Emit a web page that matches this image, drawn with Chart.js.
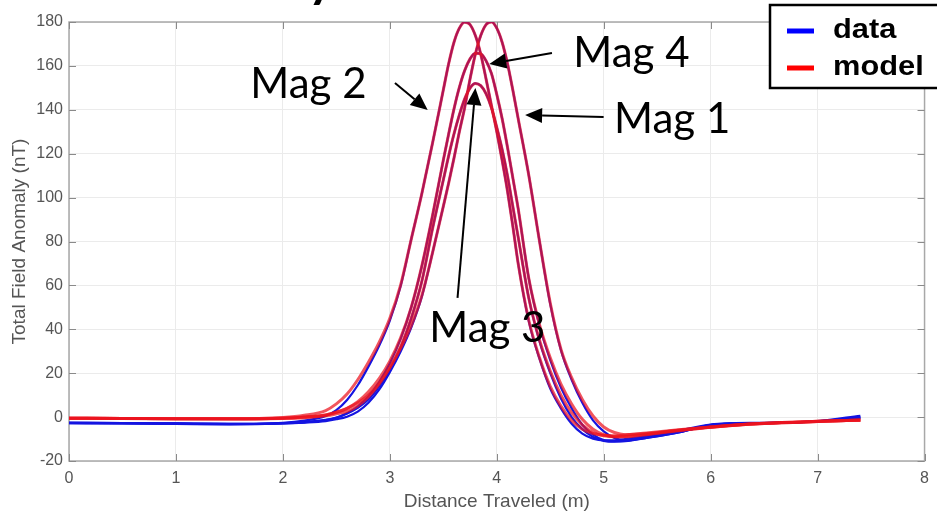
<!DOCTYPE html>
<html><head><meta charset="utf-8">
<script src="https://cdn.jsdelivr.net/npm/chart.js@4/dist/chart.umd.min.js"></script>
<style>html,body{margin:0;padding:0;background:#fff;}canvas{display:block}</style>
</head><body>
<canvas id="c" width="937" height="515"></canvas>
<script>
// ---- data ----
const distance = [0, 0.5, 1, 1.5, 2, 2.2, 2.4, 2.5, 2.6, 2.7, 2.8, 2.9, 3.0, 3.1, 3.2, 3.3, 3.4, 3.5,
  3.55, 3.6, 3.65, 3.7, 3.75, 3.8, 3.85, 3.9, 3.95, 4.0, 4.05, 4.1, 4.15, 4.2,
  4.3, 4.4, 4.5, 4.6, 4.7, 4.8, 4.9, 5.0, 5.1, 5.2, 5.4, 5.7, 6.0, 6.2, 6.5, 7.0, 7.4];

const mag1Model = [-0.5, -0.6, -0.8, -0.9, -0.6, -0.3, 0.6, 1.5, 2.6, 5.1, 9.2, 15, 22.6, 31.3, 41.7, 55.5, 75, 96,
  106.6, 118, 130, 141, 154, 165.4, 173.8, 178.8, 180, 177.2, 170.8, 161.1, 149, 136,
  110, 80, 52, 31, 18, 8, 0.5, -4.5, -7, -8, -7.5, -6, -4.6, -3.8, -2.9, -2, -1.4];
const mag2Model = [-0.5, -0.6, -0.8, -0.8, -0.2, 0.8, 3, 6, 10.5, 17, 25, 34, 45, 60, 81, 102, 125, 149,
  161, 170.8, 177.2, 179.9, 178.8, 173.8, 165.4, 154, 142, 130, 117, 103, 87, 70,
  44, 27, 14, 5, -1.5, -5.5, -7.5, -8.3, -8.5, -8.2, -7.2, -5.8, -4.5, -3.7, -2.8, -1.9, -1.3];
const mag3Model = [-0.5, -0.6, -0.8, -0.8, -0.5, 0, 1, 2.2, 4, 6.5, 10, 15.5, 22.5, 32, 45, 62, 86, 108,
  119, 129, 137.7, 145, 149.9, 152, 151, 147.3, 140.9, 132, 122, 110, 96, 82,
  54, 35, 21, 10, 2, -3.5, -7, -8.5, -9, -8.8, -7.8, -6, -4.5, -3.7, -2.8, -1.9, -1.3];
const mag4Model = [-0.5, -0.6, -0.8, -0.8, -0.5, 0, 1, 2.2, 4, 7, 11.5, 17.5, 25.5, 36, 50, 69, 92, 117,
  129, 140.4, 150.2, 157.9, 163.2, 165.8, 165.5, 162.3, 156.6, 147, 136, 123, 109, 95,
  63, 42, 27, 15, 6, -1, -5.5, -8, -9, -9, -8, -6.2, -4.6, -3.8, -2.9, -2, -1.4];

const mag1Data = [-2.5, -2.7, -2.9, -3.1, -2.9, -2.5, -1.8, -1, 0.2, 2.5, 6.5, 12.5, 20.5, 29.8, 40.8, 55, 75, 96,
  106.6, 118, 130, 141, 154, 165.4, 173.8, 178.8, 180, 177.2, 170.8, 161.1, 149, 136,
  110, 80, 51.5, 30.5, 17, 6.5, -1.5, -6.5, -9.5, -10.5, -9.5, -7, -3.6, -3, -2.7, -1.9, -0.3];
const mag2Data = [-2.6, -2.7, -2.9, -3.1, -2.6, -1.6, 0.5, 3.2, 7.8, 14.5, 23, 32.5, 44, 59.5, 81, 102, 125, 149,
  161, 170.8, 177.2, 179.9, 178.8, 173.8, 165.4, 154, 142, 130, 117, 103, 87, 70,
  43.5, 26.5, 13, 4, -3, -7.5, -9.8, -10.6, -10.6, -10, -8.6, -6.2, -3.4, -2.8, -2.6, -1.8, 0.6];
const mag3Data = [-2.8, -2.9, -3.1, -3.3, -2.9, -2.4, -1.4, -0.3, 1.6, 4.2, 8, 14, 21.5, 31.5, 45, 62, 86, 108,
  119, 129, 137.7, 145, 149.9, 152, 151, 147.3, 140.9, 132, 122, 110, 96, 82,
  54, 34.5, 20, 8.5, 0, -5.5, -9, -10.8, -11.2, -11, -9.5, -7, -3.7, -3, -2.8, -2, -0.5];
const mag4Data = [-2.7, -2.8, -3, -3.2, -2.8, -2.3, -1.3, -0.2, 1.8, 4.8, 9.5, 16, 24.5, 35.5, 50, 69, 92, 117,
  129, 140.4, 150.2, 157.9, 163.2, 165.8, 165.5, 162.3, 156.6, 147, 136, 123, 109, 95,
  63, 41.5, 26, 13.5, 4, -3.5, -8, -10.5, -11, -10.8, -9.2, -6.8, -3.5, -2.9, -2.7, -1.9, 0];

const xTickValues = [0, 1, 2, 3, 4, 5, 6, 7, 8];
const yTickValues = [-20, 0, 20, 40, 60, 80, 100, 120, 140, 160, 180];

const legendLabels = ['data', 'model'];
const legendColors = ['#0000ff', '#ff0000'];

// annotation labels: [text, x(m), y(nT) baseline]
const annotationLabels = [
  ['Mag 2', 2.239, 145.4],
  ['Mag 4', 5.259, 159.5],
  ['Mag 1', 5.640, 129.4],
  ['Mag 3', 3.912, 34.2]
];
// arrows: [fromX, fromY, tipX, tipY] in data units
const annotationArrows = [
  [3.048, 152.2, 3.354, 139.9],
  [4.516, 165.9, 3.930, 160.9],
  [4.999, 136.7, 4.265, 137.6],
  [3.633, 54.3, 3.800, 149.9]
];

// ---- build chart ----
const toPts = arr => arr.map((v, i) => ({x: distance[i], y: v}));
const modelStyle = {borderColor: 'rgba(236,20,30,0.72)', borderWidth: 3, pointRadius: 0, cubicInterpolationMode: 'monotone', fill: false};
const dataStyle  = {borderColor: 'rgba(20,20,225,1)', borderWidth: 2.2, pointRadius: 0, cubicInterpolationMode: 'monotone', fill: false};

const datasets = [
  Object.assign({label: 'Mag 1 model', data: toPts(mag1Model)}, modelStyle),
  Object.assign({label: 'Mag 2 model', data: toPts(mag2Model)}, modelStyle),
  Object.assign({label: 'Mag 3 model', data: toPts(mag3Model)}, modelStyle),
  Object.assign({label: 'Mag 4 model', data: toPts(mag4Model)}, modelStyle),
  Object.assign({label: 'Mag 1 data', data: toPts(mag1Data)}, dataStyle),
  Object.assign({label: 'Mag 2 data', data: toPts(mag2Data)}, dataStyle),
  Object.assign({label: 'Mag 3 data', data: toPts(mag3Data)}, dataStyle),
  Object.assign({label: 'Mag 4 data', data: toPts(mag4Data)}, dataStyle)
];

const frame = {
  id: 'frame',
  beforeDatasetsDraw(chart) {
    const {ctx, chartArea: a, scales: {x, y}} = chart;
    ctx.save();
    ctx.strokeStyle = '#a8a8a8';
    ctx.lineWidth = 1.5;
    ctx.strokeRect(a.left, a.top, a.right - a.left, a.bottom - a.top);
    ctx.strokeStyle = '#8a8a8a';
    ctx.lineWidth = 1;
    ctx.beginPath();
    xTickValues.forEach(v => {
      const px = Math.round(x.getPixelForValue(v)) + 0.5;
      ctx.moveTo(px, a.bottom); ctx.lineTo(px, a.bottom - 7);
      ctx.moveTo(px, a.top); ctx.lineTo(px, a.top + 7);
    });
    yTickValues.forEach(v => {
      const py = Math.round(y.getPixelForValue(v)) + 0.5;
      ctx.moveTo(a.left, py); ctx.lineTo(a.left + 7, py);
      ctx.moveTo(a.right, py); ctx.lineTo(a.right - 7, py);
    });
    ctx.stroke();
    ctx.restore();
  }
};

const annotations = {
  id: 'annotations',
  afterDatasetsDraw(chart) {
    const {ctx, scales: {x, y}} = chart;
    ctx.save();
    ctx.fillStyle = '#000';
    ctx.strokeStyle = '#000';
    ctx.lineWidth = 2;
    annotationArrows.forEach(([x1, y1, x2, y2]) => {
      const p1 = [x.getPixelForValue(x1), y.getPixelForValue(y1)];
      const p2 = [x.getPixelForValue(x2), y.getPixelForValue(y2)];
      const ang = Math.atan2(p2[1] - p1[1], p2[0] - p1[0]);
      const L = 17, W = 7.5;
      const bx = p2[0] - L * Math.cos(ang), by = p2[1] - L * Math.sin(ang);
      ctx.beginPath();
      ctx.moveTo(p1[0], p1[1]);
      ctx.lineTo(bx, by);
      ctx.stroke();
      ctx.beginPath();
      ctx.moveTo(p2[0], p2[1]);
      ctx.lineTo(bx + W * Math.sin(ang), by - W * Math.cos(ang));
      ctx.lineTo(bx - W * Math.sin(ang), by + W * Math.cos(ang));
      ctx.closePath();
      ctx.fill();
    });
    ctx.font = '42px Lato, "Open Sans", sans-serif';
    ctx.textAlign = 'center';
    ctx.textBaseline = 'alphabetic';
    annotationLabels.forEach(([t, xv, yv]) => {
      ctx.fillText(t, x.getPixelForValue(xv), y.getPixelForValue(yv));
    });
    ctx.restore();
  },
  afterDraw(chart) {
    const ctx = chart.ctx;
    ctx.save();
    // cut-off title descender at the very top
    ctx.fillStyle = '#000';
    ctx.font = 'bold 50px Lato, sans-serif';
    ctx.textAlign = 'center';
    ctx.textBaseline = 'alphabetic';
    ctx.fillText('y', 321, -3);
    // legend box
    ctx.fillStyle = '#fff';
    ctx.fillRect(770, 5, 180, 83);
    ctx.strokeStyle = '#000';
    ctx.lineWidth = 2.5;
    ctx.strokeRect(770, 5, 180, 83);
    ctx.font = 'bold 28px "Liberation Sans", Arial, sans-serif';
    ctx.textAlign = 'left';
    legendLabels.forEach((lab, i) => {
      const ly = 31 + i * 37;
      ctx.strokeStyle = legendColors[i];
      ctx.lineWidth = 5;
      ctx.beginPath(); ctx.moveTo(787, ly); ctx.lineTo(814, ly); ctx.stroke();
      ctx.fillStyle = '#000';
      ctx.save();
      ctx.translate(833, ly + 7);
      ctx.scale(1.1, 1);
      ctx.fillText(lab, 0, 0);
      ctx.restore();
    });
    ctx.restore();
  }
};

const tickFont = {family: '"Liberation Sans", Arial, sans-serif', size: 16};
const titleFont = {family: '"Liberation Sans", Arial, sans-serif', size: 19};
new Chart(document.getElementById('c'), {
  type: 'line',
  data: {datasets},
  options: {
    responsive: false,
    animation: false,
    devicePixelRatio: 1,
    layout: {padding: {top: 22, right: 7, left: 0, bottom: 0}},
    plugins: {legend: {display: false}, tooltip: {enabled: false}},
    scales: {
      x: {
        type: 'linear', min: 0, max: 8,
        afterBuildTicks: s => { s.ticks = xTickValues.map(v => ({value: v})); },
        afterFit: s => { s.height = 54; },
        grid: {color: '#ebebeb', drawTicks: false},
        border: {display: false},
        ticks: {color: '#555', font: tickFont, padding: 8, maxRotation: 0},
        title: {display: true, text: 'Distance Traveled (m)', color: '#555', font: titleFont, padding: {top: 0, bottom: 2}}
      },
      y: {
        type: 'linear', min: -20, max: 180,
        afterBuildTicks: s => { s.ticks = yTickValues.map(v => ({value: v})); },
        afterFit: s => { s.width = 69; },
        grid: {color: '#ebebeb', drawTicks: false},
        border: {display: false},
        ticks: {color: '#555', font: tickFont, padding: 6},
        title: {display: true, text: 'Total Field Anomaly (nT)', color: '#555', font: titleFont, padding: {top: 8, bottom: 0}}
      }
    }
  },
  plugins: [frame, annotations]
});
</script>
</body></html>
